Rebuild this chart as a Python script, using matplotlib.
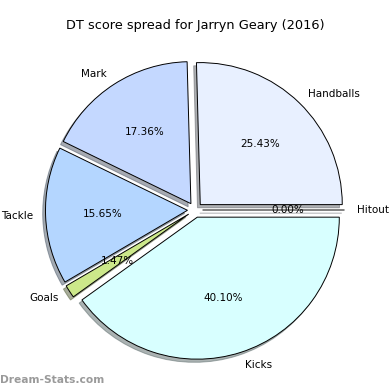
import matplotlib
matplotlib.use('Agg')
import matplotlib.pyplot as plt

# ── data ─────────────────────────────────────────────
labels = ['Handballs', 'Mark', 'Tackle', 'Goals', 'Kicks', 'Hitout']
shares = [25.43, 17.36, 15.65, 1.47, 40.10, 0.00]
colors = ['#e8f0ff', '#c4d8ff', '#b4d6ff', '#cce88a', '#d8ffff', '#e8f0ff']
explode = [0.053] * len(labels)

fig = plt.figure(figsize=(3.9, 3.9), dpi=100, facecolor='white')
ax = fig.add_axes([0, 0, 1, 1])

ax.pie(shares, labels=labels, colors=colors, explode=explode,
       autopct='%.2f%%', startangle=0, labeldistance=1.09,
       shadow=dict(ox=-0.014, oy=-0.016, shade=0.6),
       wedgeprops=dict(edgecolor='black', linewidth=0.7),
       textprops=dict(fontsize=7.5))

# pixel-based limits: centre (194, 210 from top), radius ~142 px
R = 142.0
cx, cy = 195.0, 180.0
ax.set_xlim(-cx / R, (390 - cx) / R)
ax.set_ylim(-cy / R, (390 - cy) / R)
ax.set_aspect('auto')
ax.axis('off')

fig.text(0.5, 1 - 25 / 390, 'DT score spread for Jarryn Geary (2016)',
         ha='center', va='center', fontsize=9.3)
fig.text(0.0, 1 - 380 / 390, 'Dream-Stats.com', ha='left', va='center',
         fontsize=7.7, color='#9a9a9a', fontweight='bold')

fig.savefig('out.png', dpi=100, facecolor='white')
